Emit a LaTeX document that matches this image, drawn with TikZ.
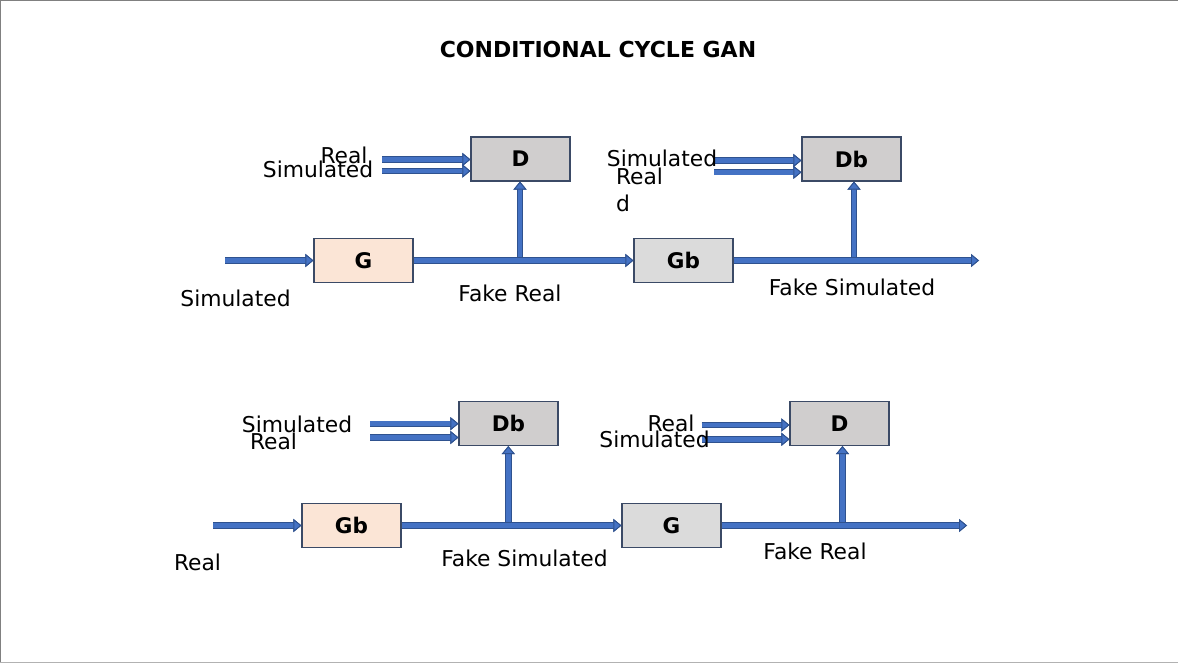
\documentclass[tikz,border=0pt]{standalone}
\usepackage{fontspec}
\setmainfont{DejaVu Sans}
\usetikzlibrary{arrows.meta}

\definecolor{arrfill}{HTML}{4472C4}
\definecolor{arredge}{HTML}{2F528F}
\definecolor{boxedge}{HTML}{3B4A66}
\definecolor{discfill}{HTML}{D0CECE}
\definecolor{genfill}{HTML}{FBE5D6}
\definecolor{gbfill}{HTML}{DBDBDB}

\tikzset{
  blk/.style={draw=boxedge, line width=1.1pt, minimum width=99pt, minimum height=44pt,
    inner sep=0pt, font=\bfseries\fontsize{21.5}{26}\selectfont},
  arr/.style={draw=arrfill, line width=4.6pt,
    preaction={draw=arredge, line width=6.4pt},
    -{Triangle[length=8pt, width=13pt, line width=0.9pt, color=arredge, fill=arrfill]}},
  lbl/.style={font=\fontsize{21.8}{26}\selectfont, inner sep=0pt}
}

\begin{document}
\begin{tikzpicture}[x=1pt, y=-1pt]
	\useasboundingbox (0,0) rectangle (1178,663);
	\draw[gray, line width=1.5pt] (0.7,663) -- (0.7,0.5) -- (1178,0.5);
	\draw[gray!60, line width=1pt] (0,662.5) -- (1178,662.5);

	\node[font=\bfseries\fontsize{22}{26}\selectfont] (title) at (598,49) {CONDITIONAL CYCLE GAN};

	% first cycle
	\node[blk, fill=genfill] (g1) at (363.5,260.5) {G};
	\node[blk, fill=discfill] (d1) at (520.5,159) {D};
	\node[blk, fill=gbfill] (gb1) at (683.5,260.5) {Gb};
	\node[blk, fill=discfill] (db1) at (851.5,159) {Db};

	\coordinate (in1) at (225,260.5);
	\coordinate (out1) at (979,260.5);
	\coordinate (br1) at (520,260.5);
	\coordinate (br2) at (854,260.5);
	\coordinate (r1) at (382,159.5);
	\coordinate (s1) at (382,171);
	\coordinate (s2) at (714,160.5);
	\coordinate (r2) at (714,172.3);

	\draw[arr] (br1) -- (br1 |- d1.south);
	\draw[arr] (br2) -- (br2 |- db1.south);
	\draw[arr] (in1) -- (g1.west);
	\draw[arr] (g1.east) -- (gb1.west);
	\draw[arr] (gb1.east) -- (out1);
	\draw[arr] (r1) -- (r1 -| d1.west);
	\draw[arr] (s1) -- (s1 -| d1.west);
	\draw[arr] (s2) -- (s2 -| db1.west);
	\draw[arr] (r2) -- (r2 -| db1.west);

	\node[lbl] (lr1) at (344,155) {Real};
	\node[lbl] (ls1) at (318,169) {Simulated};
	\node[lbl] (ls2) at (662,158) {Simulated};
	\node[lbl] (lr2) at (639.5,176) {Real};
	\node[lbl] (ld2) at (623,203) {d};
	\node[lbl] (lin1) at (235.5,298) {Simulated};
	\node[lbl] (lfr1) at (510,293) {Fake Real};
	\node[lbl] (lfs1) at (852,287) {Fake Simulated};

	% second cycle
	\node[blk, fill=genfill] (gb2) at (351.5,525.5) {Gb};
	\node[blk, fill=discfill] (db2) at (508.5,423.5) {Db};
	\node[blk, fill=gbfill] (g2) at (671.5,525.5) {G};
	\node[blk, fill=discfill] (d2) at (839.5,423.5) {D};

	\coordinate (in2) at (213,525.5);
	\coordinate (out2) at (967,525.5);
	\coordinate (br3) at (508.3,525.5);
	\coordinate (br4) at (842.5,525.5);
	\coordinate (s3) at (370,423.7);
	\coordinate (r3) at (370,437.5);
	\coordinate (r4) at (701.5,425);
	\coordinate (s4) at (701.5,439.3);

	\draw[arr] (br3) -- (br3 |- db2.south);
	\draw[arr] (br4) -- (br4 |- d2.south);
	\draw[arr] (in2) -- (gb2.west);
	\draw[arr] (gb2.east) -- (g2.west);
	\draw[arr] (g2.east) -- (out2);
	\draw[arr] (s3) -- (s3 -| db2.west);
	\draw[arr] (r3) -- (r3 -| db2.west);
	\draw[arr] (r4) -- (r4 -| d2.west);
	\draw[arr] (s4) -- (s4 -| d2.west);

	\node[lbl] (ls3) at (297,424.5) {Simulated};
	\node[lbl] (lr3) at (273.5,441) {Real};
	\node[lbl] (lr4) at (671,423.5) {Real};
	\node[lbl] (ls4) at (654.5,439) {Simulated};
	\node[lbl] (lin2) at (197.5,562.5) {Real};
	\node[lbl] (lfs2) at (524.5,558) {Fake Simulated};
	\node[lbl] (lfr2) at (815,551.5) {Fake Real};
\end{tikzpicture}
\end{document}
